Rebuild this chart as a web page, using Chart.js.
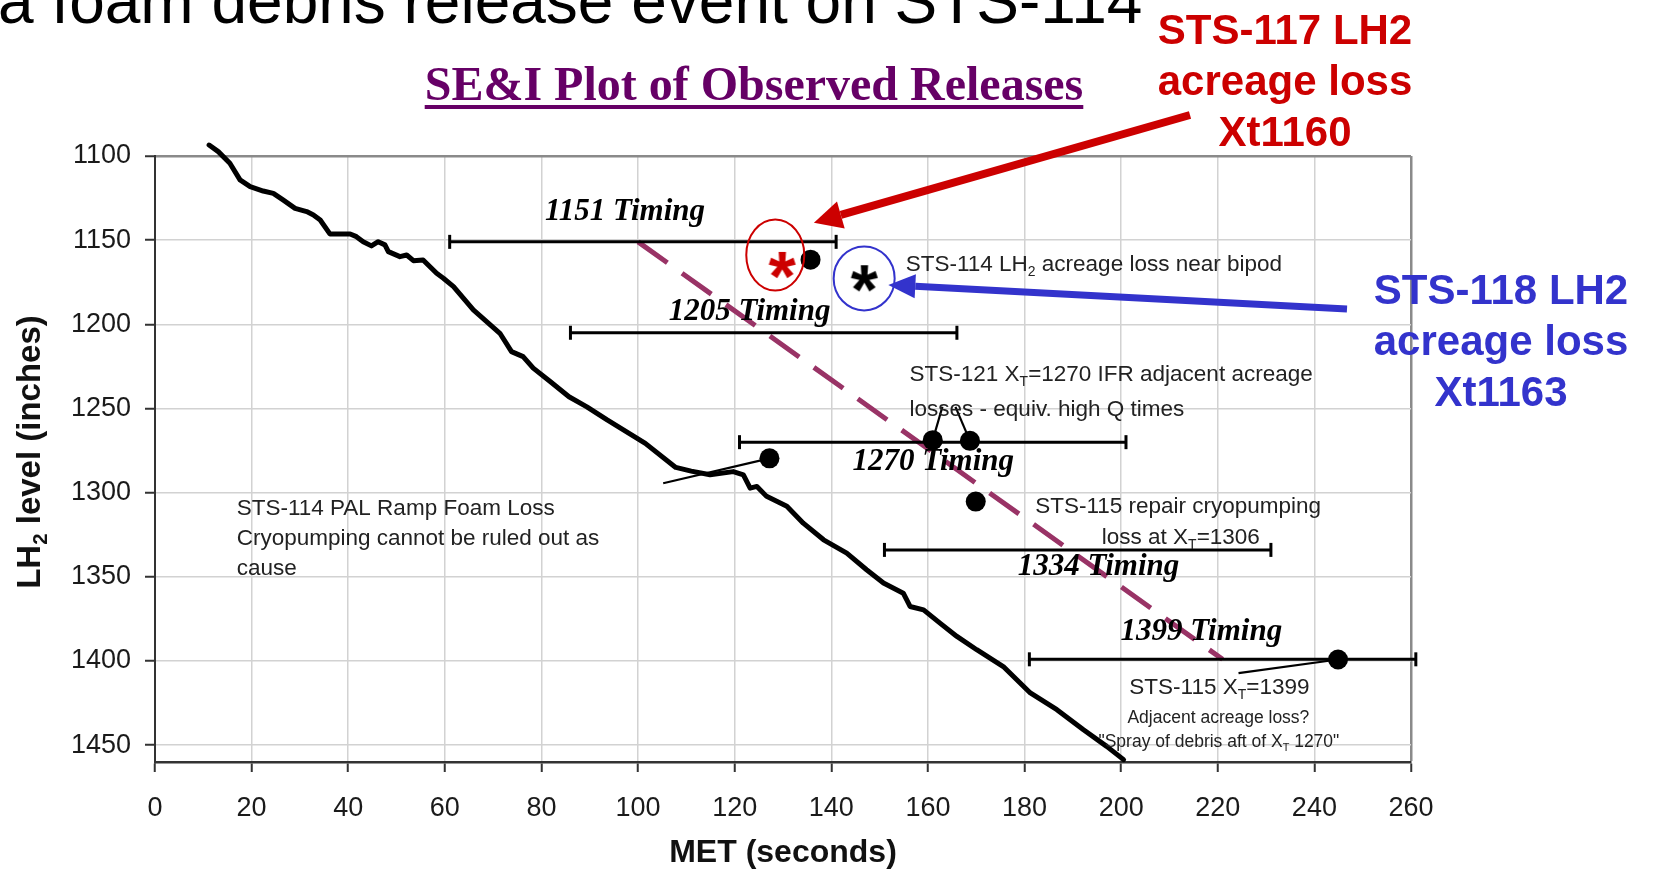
<!DOCTYPE html>
<html>
<head>
<meta charset="utf-8">
<title>SE&amp;I Plot of Observed Releases</title>
<script src="https://cdn.jsdelivr.net/npm/chart.js@4.4.1/dist/chart.umd.min.js"></script>
<style>
  html, body { margin: 0; padding: 0; background: #fff; }
  #wrap { width: 1653px; height: 872px; }
</style>
</head>
<body>
<div id="wrap"><canvas id="releaseChart" width="1653" height="872"></canvas></div>
<script>
// LH2 level trace: MET (s) against level (inches)
const levelTime = [11.2, 13.1, 15.5, 17.6, 19.7, 22.4, 24.5, 26.5, 29.0, 31.4, 32.8, 34.2, 36.2, 40.4,
  41.7, 43.1, 44.8, 46.2, 47.6, 48.3, 50.7, 52.1, 53.5, 55.5, 58.3, 59.7, 61.8, 65.9, 71.4, 73.8, 76.2,
  78.3, 81.8, 85.7, 89.4, 93.6, 101.5, 107.8, 111.0, 114.9, 119.7, 121.8, 123.2, 124.6, 126.6, 130.8,
  134.2, 138.4, 143.2, 147.3, 150.8, 154.9, 156.3, 159.1, 162.5, 166.0, 170.1, 175.6, 181.2, 186.7,
  192.2, 197.0, 200.5];
const levelInches = [1093.5, 1097.4, 1104.3, 1114.2, 1118.2, 1120.8, 1122.2, 1126.1, 1131.1, 1133.0,
  1135.0, 1138.0, 1146.3, 1146.3, 1147.9, 1150.9, 1153.4, 1150.9, 1152.8, 1156.8, 1159.8, 1158.8, 1162.2,
  1161.8, 1169.7, 1172.6, 1177.6, 1191.4, 1205.3, 1216.2, 1219.2, 1226.0, 1234.0, 1243.0, 1249.0, 1256.8,
  1270.7, 1285.0, 1287.2, 1289.4, 1287.5, 1289.4, 1297.3, 1296.3, 1302.2, 1308.1, 1318.1, 1328.0, 1335.9,
  1345.8, 1353.7, 1359.7, 1367.6, 1369.6, 1377.5, 1385.4, 1393.3, 1403.3, 1419.0, 1428.9, 1440.8, 1450.7,
  1458.6];

// timing windows
const timingLevels = [1151, 1205, 1270, 1334, 1399];
const timingStart = [61, 86, 121, 151, 181];
const timingEnd = [141, 166, 201, 231, 261];

// observed releases (black dots)
const releaseTime = [135.7, 127.2, 161.0, 168.7, 169.9, 244.9];
const releaseLevel = [1161.6, 1279.6, 1268.8, 1269.2, 1305.3, 1399.1];

// STS-117 (red) and STS-118 (black) acreage losses
const lossTime = [129.9, 146.9];
const lossLevel = [1164.7, 1172.6];

// dashed trend through the timing windows
const trendTime = [100, 221];
const trendLevel = [1151, 1399];

// leader lines from notes to dots
const leaderTime = [[127.2, 105.2], [161.0, 163.0], [168.7, 165.7], [244.9, 224.3]];
const leaderLevel = [[1279.6, 1294.4], [1268.8, 1249.0], [1269.2, 1249.0], [1399.1, 1407.2]];

// axis ticks
const metTicks = [0, 20, 40, 60, 80, 100, 120, 140, 160, 180, 200, 220, 240, 260];
const levelTicks = [1100, 1150, 1200, 1250, 1300, 1350, 1400, 1450];

const SANS = '"Liberation Sans", Arial, sans-serif';
const SERIF = '"Liberation Serif", "Times New Roman", serif';

const pairs = (xs, ys) => xs.map((x, i) => ({ x: x, y: ys[i] }));

// asterisk glyph as a point image
function asteriskImage(color) {
  const c = document.createElement('canvas');
  c.width = 40; c.height = 40;
  const g = c.getContext('2d');
  g.font = 'bold 70px ' + SANS;
  g.fillStyle = color;
  g.textAlign = 'center';
  g.textBaseline = 'alphabetic';
  const m = g.measureText('*');
  const dx = (m.actualBoundingBoxRight - m.actualBoundingBoxLeft) / 2;
  const dy = (m.actualBoundingBoxAscent - m.actualBoundingBoxDescent) / 2;
  g.fillText('*', 20 - dx, 20 + dy);
  return c;
}

// text with subscripts: parts are strings or {sub: '...'}
function drawRich(g, parts, x, y, size, weight, color, align) {
  const subSize = size * 0.62;
  let total = 0;
  const items = parts.map(p => {
    const sub = typeof p !== 'string';
    const text = sub ? p.sub : p;
    const fs = sub ? subSize : size;
    g.font = weight + ' ' + fs + 'px ' + SANS;
    const w = g.measureText(text).width;
    total += w;
    return { text, fs, sub, w };
  });
  let cx = align === 'center' ? x - total / 2 : x;
  g.fillStyle = color;
  g.textAlign = 'left';
  g.textBaseline = 'middle';
  items.forEach(it => {
    g.font = weight + ' ' + it.fs + 'px ' + SANS;
    g.fillText(it.text, cx, it.sub ? y + size * 0.3 : y);
    cx += it.w;
  });
}

function arrow(g, x1, y1, x2, y2, color, width, headLen, headHalf) {
  const a = Math.atan2(y2 - y1, x2 - x1);
  const bx = x2 - Math.cos(a) * headLen, by = y2 - Math.sin(a) * headLen;
  g.strokeStyle = color;
  g.fillStyle = color;
  g.lineWidth = width;
  g.beginPath(); g.moveTo(x1, y1); g.lineTo(bx, by); g.stroke();
  g.beginPath();
  g.moveTo(x2, y2);
  g.lineTo(bx + Math.sin(a) * headHalf, by - Math.cos(a) * headHalf);
  g.lineTo(bx - Math.sin(a) * headHalf, by + Math.cos(a) * headHalf);
  g.closePath(); g.fill();
}

// notes placed in data units (MET s, inches), left aligned
const notes = [
  { x: 155.4, y: 1164.8, size: 22.5, parts: ['STS-114 LH', { sub: '2' }, ' acreage loss near bipod'] },
  { x: 156.2, y: 1230.1, size: 22.5, parts: ['STS-121 X', { sub: 'T' }, '=1270 IFR adjacent acreage'] },
  { x: 156.2, y: 1250.9, size: 22.5, parts: ['losses - equiv. high Q times'] },
  { x: 182.2, y: 1308.3, size: 22.5, parts: ['STS-115 repair cryopumping'] },
  { x: 196.0, y: 1327.1, size: 22.5, parts: ['loss at X', { sub: 'T' }, '=1306'] },
  { x: 201.7, y: 1416.2, size: 22.5, parts: ['STS-115 X', { sub: 'T' }, '=1399'] },
  { x: 201.3, y: 1433.7, size: 17.5, parts: ['Adjacent acreage loss?'] },
  { x: 195.3, y: 1448.5, size: 17.5, parts: ['"Spray of debris aft of X', { sub: 'T' }, ' 1270"'] },
  { x: 16.9, y: 1309.3, size: 22.5, parts: ['STS-114 PAL Ramp Foam Loss'] },
  { x: 16.9, y: 1327.7, size: 22.5, parts: ['Cryopumping cannot be ruled out as'] },
  { x: 16.9, y: 1345.0, size: 22.5, parts: ['cause'] }
];
const timingLabelPos = [[97.3, 1133.1], [123.1, 1192.5], [161.1, 1281.6], [195.3, 1344.3], [216.6, 1382.6]];

const annotations = {
  id: 'annotations',
  afterDraw(chart) {
    const g = chart.ctx;
    const sx = chart.scales.x, sy = chart.scales.y;
    const px = v => sx.getPixelForValue(v), py = v => sy.getPixelForValue(v);
    g.save();

    // slide heading (cut at the top)
    g.fillStyle = '#000';
    g.font = '64px ' + SANS;
    g.textAlign = 'left';
    g.textBaseline = 'alphabetic';
    g.fillText('a foam debris release event on STS-114', -2, 23);

    // plot title, underlined
    g.fillStyle = '#660066';
    g.font = 'bold 48px ' + SERIF;
    g.textAlign = 'center';
    const title = 'SE&I Plot of Observed Releases';
    const tw = g.measureText(title).width;
    g.fillText(title, 754, 100);
    g.fillRect(754 - tw / 2, 105, tw, 4);

    // red and blue callouts
    g.font = 'bold 42px ' + SANS;
    g.fillStyle = '#cc0000';
    ['STS-117 LH2', 'acreage loss', 'Xt1160'].forEach((t, i) => g.fillText(t, 1285, 44 + i * 51));
    g.fillStyle = '#3333cc';
    ['STS-118 LH2', 'acreage loss', 'Xt1163'].forEach((t, i) => g.fillText(t, 1501, 304 + i * 51));

    // axis title with subscript
    g.save();
    g.translate(31, 452);
    g.rotate(-Math.PI / 2);
    drawRich(g, ['LH', { sub: '2' }, ' level (inches)'], 0, 0, 33, 'bold', '#111', 'center');
    g.restore();

    // notes
    notes.forEach(n => drawRich(g, n.parts, px(n.x), py(n.y), n.size, 'normal', '#222', 'left'));

    // timing labels
    g.fillStyle = '#000';
    g.font = 'italic bold 31px ' + SERIF;
    g.textAlign = 'center';
    g.textBaseline = 'middle';
    timingLevels.forEach((lv, i) => {
      g.fillText(lv + ' Timing', px(timingLabelPos[i][0]), py(timingLabelPos[i][1]));
    });

    // circles around the STS-117 / STS-118 marks
    g.lineWidth = 2;
    g.strokeStyle = '#cc0000';
    g.beginPath(); g.ellipse(px(128.4), py(1158.8), 29, 35.5, 0, 0, Math.PI * 2); g.stroke();
    g.strokeStyle = '#3333cc';
    g.beginPath(); g.ellipse(px(146.8), py(1172.7), 30.5, 32, 0, 0, Math.PI * 2); g.stroke();

    // arrows from the callouts
    arrow(g, 1190, 115, px(136.4), py(1139.6), '#cc0000', 8, 28, 14);
    arrow(g, 1347, 309, px(151.8), py(1176.6), '#3333cc', 7, 27, 12);

    g.restore();
  }
};

const datasets = [];
datasets.push({
  label: 'Acreage loss', data: pairs(lossTime, lossLevel), showLine: false,
  pointStyle: [asteriskImage('#cc0000'), asteriskImage('#000')], pointRadius: 14, order: 0, clip: false
});
datasets.push({
  label: 'Observed releases', data: pairs(releaseTime, releaseLevel), showLine: false,
  pointRadius: 10, pointBackgroundColor: '#000', pointBorderWidth: 0, order: 1
});
leaderTime.forEach((xs, i) => datasets.push({
  label: 'leader', data: pairs(xs, leaderLevel[i]), borderColor: '#000', borderWidth: 2.2,
  pointRadius: 0, order: 2, clip: false
}));
timingLevels.forEach((lv, i) => datasets.push({
  label: lv + ' Timing', data: [{ x: timingStart[i], y: lv }, { x: timingEnd[i], y: lv }],
  borderColor: '#000', borderWidth: 3, pointStyle: 'line', rotation: 90, pointRadius: 7,
  pointBorderWidth: 3, pointBorderColor: '#000', order: 3, clip: false
}));
datasets.push({
  label: 'Trend', data: pairs(trendTime, trendLevel), borderColor: '#993366', borderWidth: 5,
  borderDash: [36, 18], pointRadius: 0, order: 4
});
datasets.push({
  label: 'LH2 level', data: pairs(levelTime, levelInches), borderColor: '#000', borderWidth: 5,
  borderJoinStyle: 'round', borderCapStyle: 'round', pointRadius: 0, order: 5, clip: false
});

const chart = new Chart(document.getElementById('releaseChart').getContext('2d'), {
  type: 'line',
  data: { datasets: datasets },
  plugins: [annotations],
  options: {
    responsive: false,
    animation: false,
    events: [],
    layout: { padding: { left: 0, top: 156, right: 242, bottom: 0 } },
    plugins: { legend: { display: false }, tooltip: { enabled: false } },
    scales: {
      x: {
        type: 'linear', min: 0, max: 260,
        afterBuildTicks: s => { s.ticks = metTicks.map(v => ({ value: v })); },
        afterFit: s => { s.height = 110; },
        grid: {
          color: c => (c.tick && c.tick.value === 260 ? '#8a8a8a' : '#d2d2d2'),
          lineWidth: c => (c.tick && c.tick.value === 260 ? 2.5 : 1.5),
          tickColor: '#333', tickLength: 10, tickWidth: 2
        },
        border: { color: '#333', width: 2.5 },
        ticks: {
          color: '#1a1a1a', font: { family: SANS, size: 27 }, padding: 20, maxRotation: 0, autoSkip: false,
          callback: v => String(v)
        },
        title: {
          display: true, text: 'MET (seconds)', color: '#111',
          font: { family: SANS, size: 32, weight: 'bold' }, padding: { top: 0, bottom: 0 }
        }
      },
      y: {
        type: 'linear', reverse: true, min: 1100, max: 1460,
        afterBuildTicks: s => { s.ticks = levelTicks.map(v => ({ value: v })); },
        afterFit: s => { s.width = 155; },
        grid: {
          color: c => (c.tick && c.tick.value === 1100 ? '#8a8a8a' : '#d2d2d2'),
          lineWidth: c => (c.tick && c.tick.value === 1100 ? 2.5 : 1.5),
          tickColor: '#333', tickLength: 10, tickWidth: 2
        },
        border: { color: '#333', width: 2 },
        ticks: {
          color: '#1a1a1a', font: { family: SANS, size: 27 }, padding: 14, autoSkip: false,
          callback: v => String(v)
        }
      }
    }
  }
});
</script>
</body>
</html>
